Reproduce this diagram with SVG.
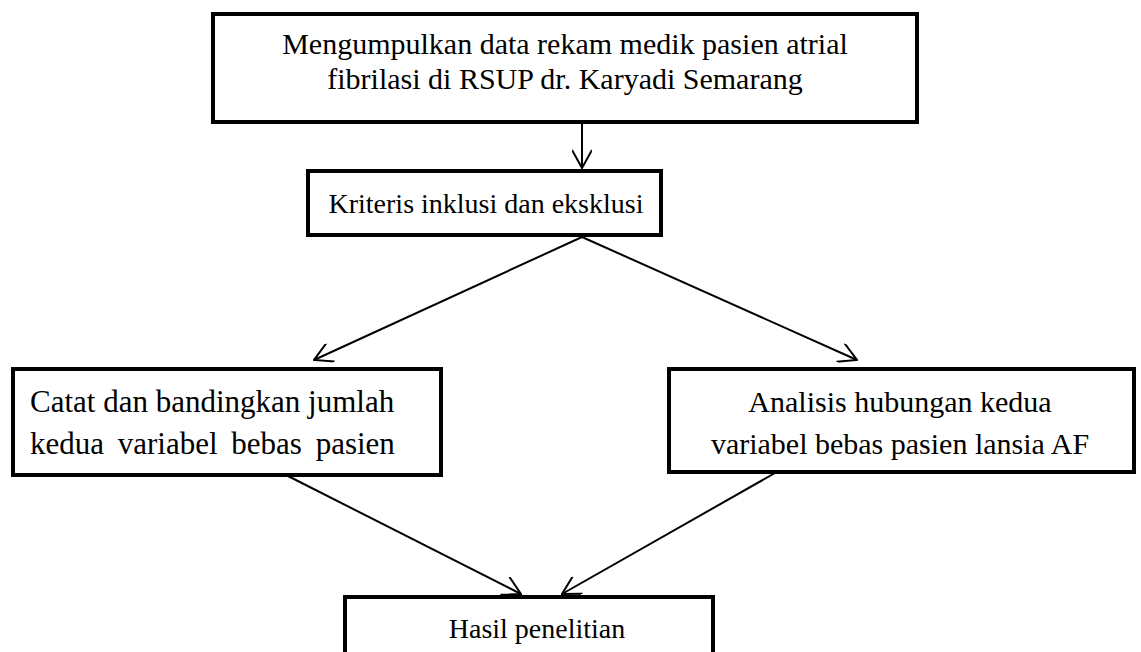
<svg xmlns="http://www.w3.org/2000/svg" width="1141" height="652" viewBox="0 0 1141 652">
  <defs>
    <style>
      .box { fill: #ffffff; stroke: #000000; stroke-width: 4; }
      .lbl { font-family: "Liberation Serif", "Times New Roman", serif; font-size: 30px; fill: #000000; }
      .sm { font-size: 28px; }
      .big { font-size: 31px; }
      .mid { text-anchor: middle; }
      .conn { fill: none; stroke: #000000; stroke-width: 2; marker-end: url(#arrow); }
    </style>
    <marker id="arrow" viewBox="0 0 20 20" refX="19" refY="10" markerWidth="20" markerHeight="20" markerUnits="userSpaceOnUse" orient="auto">
      <path d="M1,0 L19,10 L1,20" fill="none" stroke="#000000" stroke-width="2"/>
    </marker>
  </defs>
  <rect x="0" y="0" width="1141" height="652" fill="#ffffff"/>

  <g id="connectors">
    <line class="conn" x1="582" y1="122" x2="582" y2="168"/>
    <line class="conn" x1="582" y1="237" x2="314" y2="360"/>
    <line class="conn" x1="582" y1="237" x2="857" y2="360"/>
    <line class="conn" x1="288" y1="476" x2="521" y2="594"/>
    <line class="conn" x1="775" y1="473" x2="562" y2="594"/>
  </g>

  <g id="node-data">
    <rect class="box" x="213" y="14" width="704" height="108"/>
    <text class="lbl mid" x="565" y="54">Mengumpulkan data rekam medik pasien atrial</text>
    <text class="lbl mid" x="565" y="89">fibrilasi di RSUP dr. Karyadi Semarang</text>
  </g>

  <g id="node-kriteria">
    <rect class="box" x="308" y="171" width="353" height="64"/>
    <text class="lbl sm mid" x="486" y="213">Kriteris inklusi dan eksklusi</text>
  </g>

  <g id="node-catat">
    <rect class="box" x="13" y="369" width="428" height="106"/>
    <text class="lbl big" x="30" y="412">Catat dan bandingkan jumlah</text>
    <text class="lbl big" x="30" y="454" word-spacing="6">kedua variabel bebas pasien</text>
  </g>

  <g id="node-analisis">
    <rect class="box" x="669" y="369" width="465" height="103"/>
    <text class="lbl mid" x="900" y="412">Analisis hubungan kedua</text>
    <text class="lbl mid" x="900" y="454">variabel bebas pasien lansia AF</text>
  </g>

  <g id="node-hasil">
    <rect class="box" x="345" y="597" width="368" height="70"/>
    <text class="lbl sm mid" x="537" y="638">Hasil penelitian</text>
  </g>
</svg>
